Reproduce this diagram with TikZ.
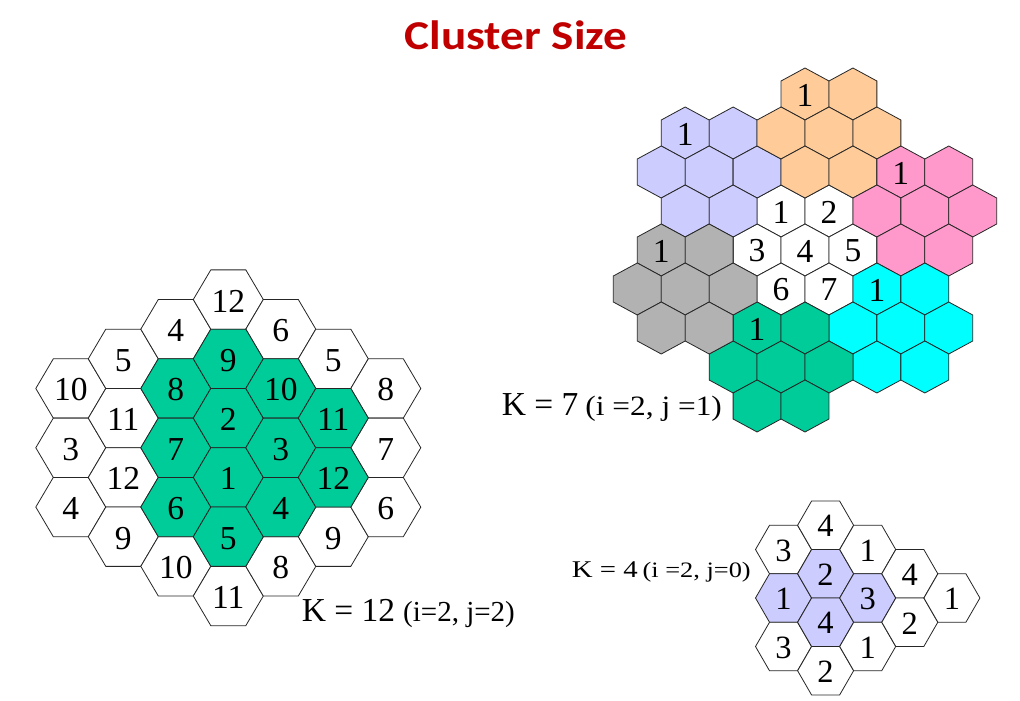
\documentclass[tikz,border=0pt]{standalone}
\usepackage{fontspec}
\setmainfont{Liberation Serif}
\newfontfamily\titlefont{Carlito}
\definecolor{titlered}{HTML}{C00000}
\definecolor{cgreen}{HTML}{00CC99}
\definecolor{lav}{HTML}{CCCCFF}
\definecolor{corange}{HTML}{FFCC99}
\definecolor{cpink}{HTML}{FF99CC}
\definecolor{cgray}{HTML}{B2B2B2}
\definecolor{ccyan}{HTML}{00FFFF}
\begin{document}
\begin{tikzpicture}[x=1pt,y=-1pt,
  hexline/.style={draw=black!85, line width=0.8pt, line join=miter},
  num/.style={inner sep=0pt, font=\fontsize{33.5}{33.5}\selectfont},
  smallnum/.style={inner sep=0pt, font=\fontsize{32.5}{32.5}\selectfont},
  klabel/.style={inner sep=0pt, anchor=base west}]
\useasboundingbox[fill=white] (0,0) rectangle (1020,701);

% title
\node[anchor=base, text=titlered, inner sep=0pt,
      font=\titlefont\bfseries\fontsize{41}{41}\selectfont] (title) at (516,50) {\scalebox{1.15}[1]{Cluster Size}};

% ---------------- K = 12 (flat-top hexagons)
\foreach \q/\m/\t/\f [count=\i] in {
  -3/-2/10/white, -3/0/3/white, -3/2/4/white,
  -2/-3/5/white, -2/-1/11/white, -2/1/12/white, -2/3/9/white,
  -1/-4/4/white, -1/4/10/white,
  0/-5/12/white, 0/5/11/white,
  1/-4/6/white, 1/4/8/white,
  2/-3/5/white, 2/3/9/white,
  3/-2/8/white, 3/0/7/white, 3/2/6/white,
  -1/-2/8/cgreen, -1/0/7/cgreen, -1/2/6/cgreen,
  0/-3/9/cgreen, 0/-1/2/cgreen, 0/1/1/cgreen, 0/3/5/cgreen,
  1/-2/10/cgreen, 1/0/3/cgreen, 1/2/4/cgreen,
  2/-1/11/cgreen, 2/1/12/cgreen} {
  \pgfmathsetmacro\cx{228.3+52.5*\q}
  \pgfmathsetmacro\cy{447.75+29.65*\m}
  \draw[hexline, fill=\f, shift={(\cx,\cy)}]
    (-35,0) -- (-17.5,-29.65) -- (17.5,-29.65) -- (35,0) -- (17.5,29.65) -- (-17.5,29.65) -- cycle;
  \node[num] (twelve\i) at (\cx,\cy+1.5) {\t};
}
\node[klabel] (ktwelve) at (301.7,621.7)
  {{\fontsize{33.5}{33.5}\selectfont K = 12}\hspace{8pt}{\fontsize{29}{29}\selectfont (i=2, j=2)}};

% ---------------- K = 7 (pointy-top hexagons)
\foreach \cq/\cr/\f [count=\ci] in {0/0/white, -1/-2/lav, 2/-3/corange, 3/-1/cpink,
                                   1/2/ccyan, -2/3/cgreen, -3/1/cgray} {
  \foreach \dq/\dr/\t [count=\cj] in {0/-1/1, 1/-1/2, -1/0/3, 0/0/4, 1/0/5, -1/1/6, 0/1/7} {
    \pgfmathsetmacro\cx{805+47.92*(\cq+\dq+(\cr+\dr)/2)}
    \pgfmathsetmacro\cy{250+39*(\cr+\dr)}
    \draw[hexline, fill=\f, shift={(\cx,\cy)}]
      (0,-26) -- (23.96,-13) -- (23.96,13) -- (0,26) -- (-23.96,13) -- (-23.96,-13) -- cycle;
    \pgfmathtruncatemacro\show{(\ci==1) || (\t==1)}
    \ifnum\show=1
      \node[num] (seven\ci\cj) at (\cx,\cy+1) {\t};
    \fi
  }
}
\node[klabel] (kseven) at (501.7,415)
  {{\fontsize{33.5}{33.5}\selectfont K = 7}\hspace{7pt}{\fontsize{28}{28}\selectfont\scalebox{1.12}[1]{(i =2, j =1)}}};

% ---------------- K = 4 (flat-top hexagons)
\foreach \c/\m/\t/\f [count=\i] in {
  0/-2/3/white, 0/0/1/lav, 0/2/3/white,
  1/-3/4/white, 1/-1/2/lav, 1/1/4/lav, 1/3/2/white,
  2/-2/1/white, 2/0/3/lav, 2/2/1/white,
  3/-1/4/white, 3/1/2/white,
  4/0/1/white} {
  \pgfmathsetmacro\cx{783.5+42.1*\c}
  \pgfmathsetmacro\cy{598+24.25*\m}
  \draw[hexline, fill=\f, shift={(\cx,\cy)}]
    (-28,0) -- (-14,-24.25) -- (14,-24.25) -- (28,0) -- (14,24.25) -- (-14,24.25) -- cycle;
  \node[smallnum] (four\i) at (\cx,\cy+1) {\t};
}
\node[klabel] (kfour) at (571.7,577)
  {\scalebox{1.2}[1]{{\fontsize{24}{24}\selectfont K = 4}\hspace{4pt}{\fontsize{22}{22}\selectfont (i =2, j=0)}}};
\end{tikzpicture}
\end{document}
